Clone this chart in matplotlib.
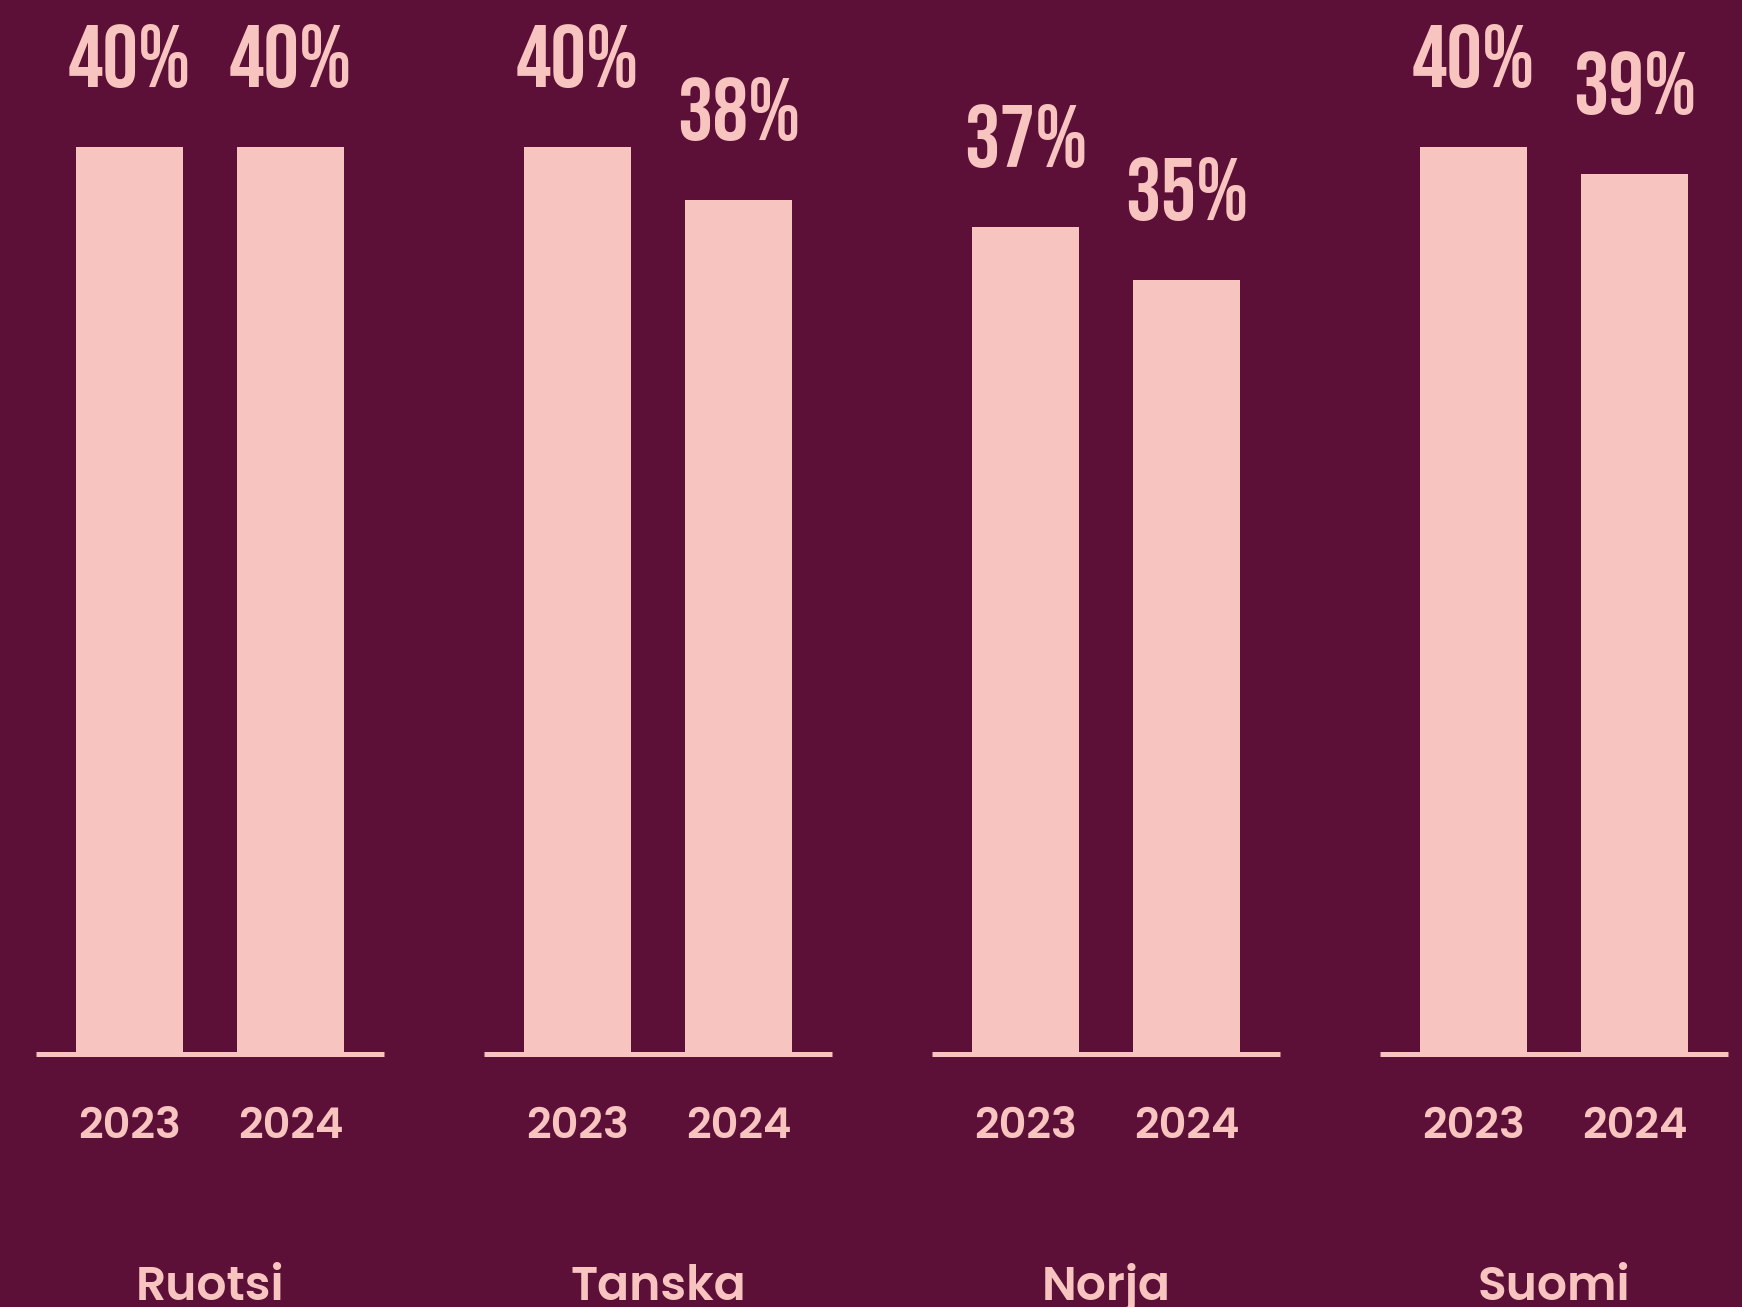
import matplotlib
matplotlib.use("Agg")
import matplotlib.pyplot as plt

# data
maat = ["Ruotsi", "Tanska", "Norja", "Suomi"]
vuodet = ["2023", "2024"]
arvot_2023 = [40, 40, 37, 40]
arvot_2024 = [40, 38, 35, 39]

TAUSTA = "#5C1038"
PINKKI = "#F8C4C0"

RYHMA_VALI = 2.783
PALKKI_LEVEYS = 0.665
Y_ALA = 5.77
Y_YLA = 45.55


def main():
    fig = plt.figure(figsize=(17.42, 13.07), dpi=100, facecolor=TAUSTA)
    ax = fig.add_axes([0, 0.1936, 1, 0.8064])
    ax.set_facecolor(TAUSTA)
    ax.axis("off")
    ax.set_xlim(-1.304, 9.516)
    ax.set_ylim(Y_ALA, Y_YLA)

    keskukset = [g * RYHMA_VALI for g in range(len(maat))]
    x_2023 = [c - 0.5 for c in keskukset]
    x_2024 = [c + 0.5 for c in keskukset]

    ax.bar(x_2023, arvot_2023, width=PALKKI_LEVEYS, color=PINKKI, linewidth=0)
    ax.bar(x_2024, arvot_2024, width=PALKKI_LEVEYS, color=PINKKI, linewidth=0)

    pros_font = dict(family=["Bebas Neue", "DejaVu Sans"], size=64,
                     color=PINKKI)
    teksti_font = dict(family=["Poppins", "DejaVu Sans"], weight="semibold",
                       color=PINKKI)

    for xs, arvot in ((x_2023, arvot_2023), (x_2024, arvot_2024)):
        for x, v in zip(xs, arvot):
            ax.annotate(f"{v}%", (x, v), xytext=(0, 43),
                        textcoords="offset points", ha="center",
                        va="baseline", **pros_font)

    trans = matplotlib.transforms.blended_transform_factory(ax.transData,
                                                            fig.transFigure)
    for c, maa in zip(keskukset, maat):
        ax.plot([c - 1.08, c + 1.08], [Y_ALA, Y_ALA], color=PINKKI,
                lw=3.6, solid_capstyle="butt", clip_on=False)
        ax.text(c - 0.5, 0.1293, vuodet[0], transform=trans, ha="center",
                va="baseline", size=31, **teksti_font)
        ax.text(c + 0.5, 0.1293, vuodet[1], transform=trans, ha="center",
                va="baseline", size=31, **teksti_font)
        ax.text(c, 0.0054, maa, transform=trans, ha="center",
                va="baseline", size=34, **teksti_font)

    fig.savefig("out.png", dpi=100, facecolor=TAUSTA)
    plt.close(fig)


if __name__ == "__main__":
    main()
